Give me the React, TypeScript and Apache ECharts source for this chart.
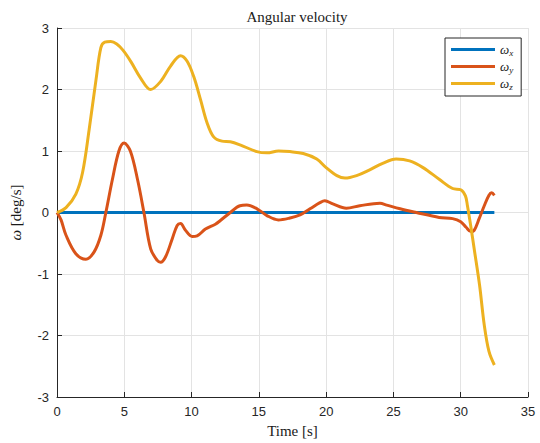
import React, { useEffect, useRef } from "react";
import * as echarts from "echarts";

// Angular velocity components over time [s] -> [deg/s]
const timeY: number[] = [0, 0.3, 0.67, 1.4, 2.15, 2.76, 3.26, 3.63, 4.12, 4.6, 4.98, 5.45, 6.0, 6.46, 6.96, 7.45, 7.7, 8.07, 8.56, 8.93, 9.18, 9.55, 10.04, 10.41, 11.03, 11.77, 12.14, 12.88, 13.6, 14.1, 14.86, 15.6, 16.45, 17.3, 18.06, 18.8, 19.54, 19.9, 20.5, 21.5, 22.5, 24.0, 24.5, 25.5, 26.7, 28.4, 29.4, 30.0, 30.4, 30.76, 31.0, 31.37, 31.75, 32.1, 32.3, 32.5];
const omegaY: number[] = [0, -0.12, -0.37, -0.67, -0.76, -0.64, -0.37, 0, 0.54, 1.0, 1.13, 1.0, 0.52, 0, -0.59, -0.78, -0.81, -0.72, -0.43, -0.21, -0.18, -0.29, -0.39, -0.38, -0.27, -0.19, -0.13, 0.0, 0.11, 0.12, 0.06, -0.05, -0.12, -0.09, -0.04, 0.06, 0.16, 0.19, 0.14, 0.07, 0.11, 0.15, 0.12, 0.06, 0.0, -0.08, -0.1, -0.15, -0.24, -0.31, -0.29, -0.1, 0.11, 0.28, 0.32, 0.28];

const timeZ: number[] = [0, 0.67, 1.4, 1.9, 2.39, 2.9, 3.26, 3.55, 4.0, 4.44, 4.9, 5.5, 6.2, 6.96, 7.7, 8.44, 9.18, 9.67, 10.16, 10.66, 11.15, 11.64, 12.26, 12.88, 13.6, 14.85, 15.6, 16.46, 17.3, 18.3, 19.3, 20.0, 20.8, 21.4, 22.26, 23.2, 24.2, 25.2, 26.2, 27.2, 28.4, 29.4, 30.0, 30.35, 30.5, 30.76, 31.0, 31.4, 31.75, 32.1, 32.5];
const omegaZ: number[] = [0, 0.08, 0.3, 0.65, 1.35, 2.16, 2.68, 2.77, 2.78, 2.74, 2.64, 2.45, 2.19, 2.0, 2.13, 2.38, 2.55, 2.46, 2.21, 1.84, 1.46, 1.23, 1.16, 1.15, 1.1, 0.99, 0.97, 1.0, 0.99, 0.96, 0.87, 0.73, 0.6, 0.56, 0.6, 0.69, 0.8, 0.87, 0.84, 0.73, 0.54, 0.39, 0.37, 0.27, 0.11, -0.24, -0.59, -1.18, -1.83, -2.26, -2.48];

const timeX: number[] = [0, 32.5];
const omegaX: number[] = [0, 0];

const xTicks: number[] = [0, 5, 10, 15, 20, 25, 30, 35];
const yTicks: number[] = [-3, -2, -1, 0, 1, 2, 3];

const seriesNames = ["wx", "wy", "wz"];
const seriesColors = ["#0072BD", "#D95319", "#EDB120"];
const subscripts: Record<string, string> = { wx: "x", wy: "y", wz: "z" };

const zip = (t: number[], v: number[]) => t.map((x, i) => [x, v[i]]);

const App: React.FC = () => {
  const ref = useRef<HTMLDivElement>(null);

  useEffect(() => {
    if (!ref.current) return;
    const chart = echarts.init(ref.current, undefined, { renderer: "svg" });
    const serif = "'Liberation Serif', 'DejaVu Serif', serif";
    const sans = "'Liberation Sans', Arial, sans-serif";
    const axisText = "#262626";

    chart.setOption({
      animation: false,
      backgroundColor: "#ffffff",
      title: {
        text: "Angular velocity",
        left: 292,
        top: 4,
        textAlign: "center",
        textStyle: { fontFamily: serif, fontSize: 15, fontWeight: "normal", color: "#1a1a1a" },
      },
      grid: { left: 56, right: 12, top: 28, bottom: 44, containLabel: false },
      legend: {
        orient: "vertical",
        left: 445,
        top: 38,
        backgroundColor: "#ffffff",
        borderColor: "#262626",
        borderWidth: 1,
        borderRadius: 0,
        padding: [5, 8, 5, 6],
        itemGap: 3,
        itemWidth: 44,
        itemHeight: 3,
        icon: "rect",
        data: seriesNames,
        formatter: (name: string) => `{w|ω}{s|${subscripts[name]}}`,
        textStyle: {
          rich: {
            w: { fontFamily: serif, fontStyle: "italic", fontSize: 13, color: "#1a1a1a" },
            s: { fontFamily: serif, fontStyle: "italic", fontSize: 9, color: "#1a1a1a", verticalAlign: "bottom", padding: [6, 0, 0, 0] },
          },
        },
      },
      xAxis: {
        type: "value",
        min: 0,
        max: 35,
        interval: 5,
        name: "Time [s]",
        nameLocation: "middle",
        nameGap: 26,
        nameTextStyle: { fontFamily: serif, fontSize: 15, color: "#1a1a1a" },
        axisLine: { show: true, onZero: false, lineStyle: { color: "#262626", width: 1 } },
        axisTick: { show: true, inside: true, length: 5, lineStyle: { color: "#262626" } },
        axisLabel: {
          fontFamily: sans,
          fontSize: 13,
          color: axisText,
          margin: 8,
          formatter: (v: number) => (xTicks.includes(v) ? String(v) : ""),
        },
        splitLine: { show: true, lineStyle: { color: "#e3e3e3", width: 1 } },
      },
      yAxis: {
        type: "value",
        min: -3,
        max: 3,
        interval: 1,
        name: "{w|ω} [deg/s]",
        nameLocation: "middle",
        nameGap: 34,
        nameRotate: 90,
        nameTextStyle: {
          fontFamily: serif,
          fontSize: 15,
          color: "#1a1a1a",
          rich: { w: { fontFamily: serif, fontStyle: "italic", fontSize: 15, color: "#1a1a1a" } },
        },
        axisLine: { show: true, lineStyle: { color: "#262626", width: 1 } },
        axisTick: { show: true, inside: true, length: 5, lineStyle: { color: "#262626" } },
        axisLabel: {
          fontFamily: sans,
          fontSize: 13,
          color: axisText,
          margin: 8,
          formatter: (v: number) => (yTicks.includes(v) ? String(v) : ""),
        },
        splitLine: { show: true, lineStyle: { color: "#e3e3e3", width: 1 } },
      },
      series: [
        {
          name: "wx",
          type: "line",
          data: zip(timeX, omegaX),
          showSymbol: false,
          lineStyle: { color: seriesColors[0], width: 3 },
          itemStyle: { color: seriesColors[0] },
          z: 2,
        },
        {
          name: "wy",
          type: "line",
          data: zip(timeY, omegaY),
          smooth: 0.35,
          showSymbol: false,
          lineStyle: { color: seriesColors[1], width: 3 },
          itemStyle: { color: seriesColors[1] },
          z: 3,
        },
        {
          name: "wz",
          type: "line",
          data: zip(timeZ, omegaZ),
          smooth: 0.35,
          showSymbol: false,
          lineStyle: { color: seriesColors[2], width: 3 },
          itemStyle: { color: seriesColors[2] },
          z: 4,
        },
      ],
    });

    return () => chart.dispose();
  }, []);

  return <div ref={ref} style={{ width: 540, height: 443, position: "absolute", left: 0, top: 0 }} />;
};

export default App;
